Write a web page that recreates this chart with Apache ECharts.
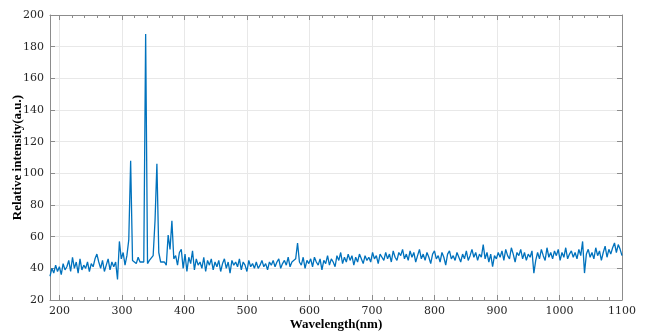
<!DOCTYPE html>
<html>
<head>
<meta charset="utf-8">
<script src="https://cdn.jsdelivr.net/npm/echarts@6/dist/echarts.min.js"></script>
<style>
  html, body { margin: 0; padding: 0; background: #fff; }
  #chart { width: 651px; height: 333px; }
</style>
</head>
<body>
<div id="chart"></div>
<script>
// wavelengths (nm), every ~3 nm
const wavelengths = [
  185,188,191,194,197,200,203,206,209,212,
  215,218,221,224,227,230,233,236,239,242,
  245,248,251,254,257,260,263,266,269,272,
  275,278,281,284,287,290,293,296,299,302,
  305,308,311,314,317,320,323,326,329,332,
  335,338,341,344,347,350,353,356,359,362,
  365,368,371,374,377,380,383,386,389,392,
  395,398,401,404,407,410,413,416,419,422,
  425,428,431,434,437,440,443,446,449,452,
  455,458,461,464,467,470,473,476,479,482,
  485,488,491,494,497,500,503,506,509,512,
  515,518,521,524,527,530,533,536,539,542,
  545,548,551,554,557,560,563,566,569,572,
  575,578,581,584,587,590,593,596,599,602,
  605,608,611,614,617,620,623,626,629,632,
  635,638,641,644,647,650,653,656,659,662,
  665,668,671,674,677,680,683,686,689,692,
  695,698,701,704,707,710,713,716,719,722,
  725,728,731,734,737,740,743,746,749,752,
  755,758,761,764,767,770,773,776,779,782,
  785,788,791,794,797,800,803,806,809,812,
  815,818,821,824,827,830,833,836,839,842,
  845,848,851,854,857,860,863,866,869,872,
  875,878,881,884,887,890,893,896,899,902,
  905,908,911,914,917,920,923,926,929,932,
  935,938,941,944,947,950,953,956,959,962,
  965,968,971,974,977,980,983,986,989,992,
  995,998,1001,1004,1007,1010,1013,1016,1019,1022,
  1025,1028,1031,1034,1037,1040,1043,1046,1049,1052,
  1055,1058,1061,1064,1067,1070,1073,1076,1079,1082,
  1085,1088,1091,1094,1097,1100
];

// relative intensity (a.u.)
const intensity = [
  35,40,37,42,38,41,36,43,39,41,
  45,38,47,40,44,37,46,39,42,40,
  44,38,43,41,46,49,44,40,45,38,
  42,46,39,44,41,44,33,57,46,50,
  42,48,58,108,45,46,43,47,44,45,
  44,188,43,45,44,48,70,106,50,44,
  43,44,42,61,52,70,46,48,42,50,
  52,40,49,38,47,43,51,39,46,42,
  44,40,47,38,45,42,46,39,44,41,
  45,38,43,46,40,44,37,45,42,44,
  41,46,39,44,42,38,45,41,43,40,
  44,40,42,45,41,43,39,44,42,45,
  41,44,46,40,43,45,42,47,41,44,
  43,46,56,44,42,47,40,45,43,46,
  41,47,44,42,46,39,45,43,48,42,
  46,44,41,48,45,50,43,47,44,49,
  45,48,42,47,44,49,46,43,48,45,
  47,44,50,46,48,43,49,47,45,50,
  46,49,44,51,47,45,50,48,52,46,
  49,45,51,47,50,44,48,52,46,49,
  45,50,47,43,49,51,46,48,44,50,
  47,42,49,51,46,48,45,50,47,44,
  49,46,51,45,48,52,47,50,45,49,
  47,55,46,50,44,49,41,48,46,50,
  47,51,45,52,48,46,53,49,44,50,
  48,52,46,50,45,49,47,51,37,45,
  50,46,52,48,45,53,47,50,46,51,
  48,52,45,50,47,53,46,49,51,47,
  50,46,52,48,57,37,49,52,47,50,
  46,53,48,51,45,50,54,47,52,49,
  53,56,50,55,52,48
];

// axis tick labels
const xTicks = [200, 300, 400, 500, 600, 700, 800, 900, 1000, 1100];
const xMinorTicks = [];
for (let v = 200; v <= 1100; v += 20) {
  if (v % 100 !== 0) xMinorTicks.push(v);
}

const xMin = 185, xMax = 1100;
const yMin = 20, yMax = 200;

const chart = echarts.init(document.getElementById('chart'));

const tickColor = '#8c8c8c';
const gridBox = { left: 50, right: 29, top: 15, bottom: 33, containLabel: false, outerBoundsMode: 'none' };
const labelFont = { fontFamily: 'DejaVu Serif', fontSize: 11, color: '#262626' };
const boxLine = { show: true, lineStyle: { color: tickColor, width: 1 } };
const titleFont = { fontFamily: 'Liberation Serif', fontWeight: 'bold', fontSize: 13, color: '#000' };

// box / minor-tick axis: same range, no labels, inward ticks
function xBox(gridIndex, position, ticks, len, showLine) {
  return {
    type: 'value', gridIndex: gridIndex, position: position, min: xMin, max: xMax,
    axisLine: showLine ? boxLine : { show: false },
    axisTick: { show: true, inside: true, length: len, customValues: ticks, lineStyle: { color: tickColor } },
    axisLabel: { show: false },
    splitLine: { show: false }
  };
}

chart.setOption({
  animation: false,
  grid: [gridBox, Object.assign({}, gridBox)],
  xAxis: [
    {
      type: 'value', gridIndex: 0, min: xMin, max: xMax,
      name: 'Wavelength(nm)', nameLocation: 'middle', nameGap: 18, nameMoveOverlap: false,
      nameTextStyle: titleFont,
      axisLine: boxLine,
      axisTick: { show: true, inside: true, length: 5, customValues: xTicks, lineStyle: { color: tickColor } },
      axisLabel: Object.assign({ margin: 6, customValues: xTicks, formatter: v => String(v) }, labelFont),
      splitLine: { show: true, lineStyle: { color: '#e8e8e8', width: 1 } }
    },
    xBox(0, 'top', xTicks, 5, true),
    xBox(1, 'bottom', xMinorTicks, 3, false),
    xBox(1, 'top', xMinorTicks, 3, false)
  ],
  yAxis: [
    {
      type: 'value', gridIndex: 0, min: yMin, max: yMax, interval: 20,
      name: 'Relative intensity(a.u.)', nameLocation: 'middle', nameGap: 26, nameMoveOverlap: false,
      nameTextStyle: titleFont,
      axisLine: boxLine,
      axisTick: { show: true, inside: true, length: 5, lineStyle: { color: tickColor } },
      axisLabel: Object.assign({ margin: 6 }, labelFont),
      splitLine: { show: true, lineStyle: { color: '#e8e8e8', width: 1 } }
    },
    {
      type: 'value', gridIndex: 0, position: 'right', min: yMin, max: yMax, interval: 20,
      axisLine: boxLine,
      axisTick: { show: true, inside: true, length: 5, lineStyle: { color: tickColor } },
      axisLabel: { show: false },
      splitLine: { show: false }
    },
    {
      type: 'value', gridIndex: 1, min: yMin, max: yMax, show: false
    }
  ],
  series: [
    {
      type: 'line',
      xAxisIndex: 0, yAxisIndex: 0,
      data: wavelengths.map((w, i) => [w, intensity[i]]),
      showSymbol: false,
      lineStyle: { color: '#0072BD', width: 1.3 },
      itemStyle: { color: '#0072BD' }
    }
  ]
});
</script>
</body>
</html>
